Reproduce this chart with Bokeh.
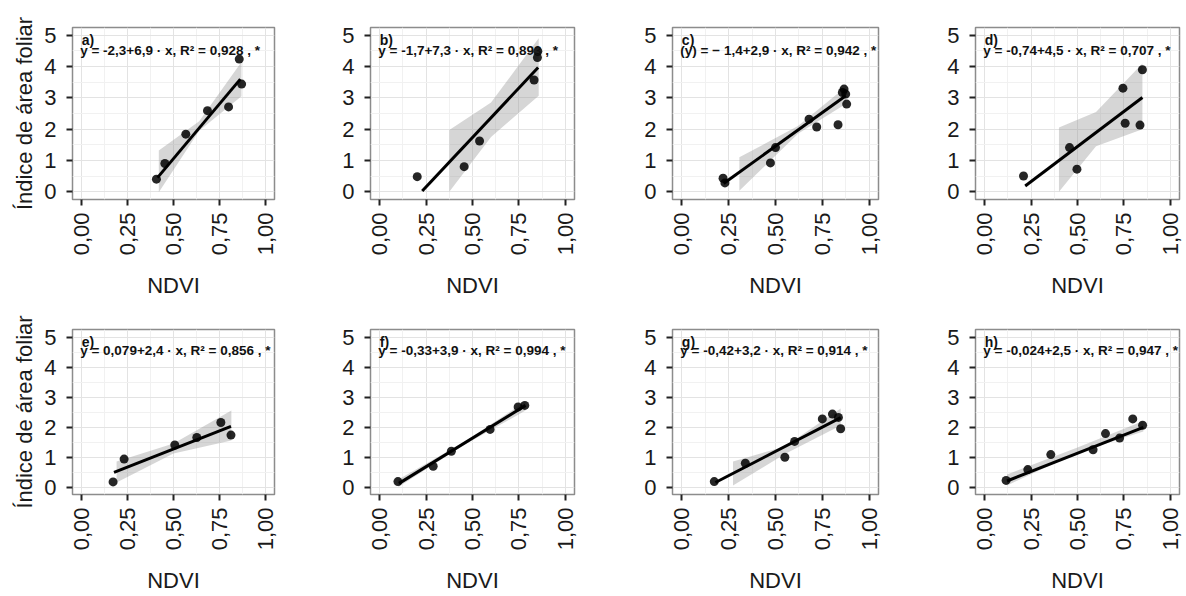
from bokeh.plotting import figure
from bokeh.layouts import column, row
from bokeh.models import FixedTicker, Label
from bokeh.embed import file_html
from bokeh.resources import INLINE

# ---------------- data ----------------
panel_tags = ["a)", "b)", "c)", "d)", "e)", "f)", "g)", "h)"]
equations = [
    "y = -2,3+6,9 · x,  R² = 0,928 , *",
    "y = -1,7+7,3 · x,  R² = 0,893 , *",
    "(y) = − 1,4+2,9 · x,  R² = 0,942 , *",
    "y = -0,74+4,5 · x,  R² = 0,707 , *",
    "y = 0,079+2,4 · x,  R² = 0,856 , *",
    "y = -0,33+3,9 · x,  R² = 0,994 , *",
    "y = -0,42+3,2 · x,  R² = 0,914 , *",
    "y = -0,024+2,5 · x,  R² = 0,947 , *",
]
x_tick_values = [0.0, 0.25, 0.5, 0.75, 1.0]
x_tick_labels = ["0,00", "0,25", "0,50", "0,75", "1,00"]
y_tick_values = [0, 1, 2, 3, 4, 5]
y_tick_labels = ["0", "1", "2", "3", "4", "5"]
x_axis_title = "NDVI"
y_axis_title = "Índice de área foliar"

# panel a
ndvi_a = [0.407, 0.453, 0.567, 0.685, 0.800, 0.858, 0.871]
iaf_a = [0.40, 0.90, 1.84, 2.59, 2.71, 4.24, 3.44]
fit_x_a = [0.413, 0.864]
fit_y_a = [0.45, 3.60]
band_x_a = [0.42, 0.64, 0.87]
band_lo_a = [-0.02, 1.95, 3.05]
band_hi_a = [1.32, 2.25, 4.15]

# panel b
ndvi_b = [0.202, 0.455, 0.538, 0.832, 0.850, 0.852]
iaf_b = [0.48, 0.80, 1.62, 3.57, 4.29, 4.49]
fit_x_b = [0.229, 0.854]
fit_y_b = [0.02, 3.97]
band_x_b = [0.375, 0.60, 0.857]
band_lo_b = [0.0, 1.75, 3.07]
band_hi_b = [1.97, 2.85, 4.91]

# panel c
ndvi_c = [0.220, 0.230, 0.473, 0.500, 0.679, 0.720, 0.834, 0.857, 0.866, 0.875, 0.880]
iaf_c = [0.43, 0.28, 0.92, 1.41, 2.32, 2.07, 2.14, 3.17, 3.28, 3.12, 2.80]
fit_x_c = [0.223, 0.875]
fit_y_c = [0.26, 3.07]
band_x_c = [0.307, 0.62, 0.875]
band_lo_c = [0.03, 1.85, 2.80]
band_hi_c = [1.10, 2.10, 3.35]

# panel d
ndvi_d = [0.209, 0.457, 0.497, 0.745, 0.757, 0.837, 0.850]
iaf_d = [0.50, 1.41, 0.72, 3.31, 2.19, 2.13, 3.90]
fit_x_d = [0.218, 0.850]
fit_y_d = [0.18, 3.01]
band_x_d = [0.40, 0.60, 0.85]
band_lo_d = [0.0, 1.45, 2.00]
band_hi_d = [2.05, 2.55, 4.10]

# panel e
ndvi_e = [0.171, 0.231, 0.507, 0.627, 0.758, 0.813]
iaf_e = [0.17, 0.93, 1.40, 1.65, 2.15, 1.73]
fit_x_e = [0.176, 0.813]
fit_y_e = [0.49, 2.02]
band_x_e = [0.19, 0.50, 0.815]
band_lo_e = [0.15, 1.12, 1.55]
band_hi_e = [0.85, 1.45, 2.55]

# panel f
ndvi_f = [0.098, 0.288, 0.386, 0.595, 0.746, 0.782]
iaf_f = [0.18, 0.69, 1.19, 1.92, 2.67, 2.72]
fit_x_f = [0.104, 0.786]
fit_y_f = [0.12, 2.72]
band_x_f = [0.10, 0.45, 0.786]
band_lo_f = [0.0, 1.38, 2.55]
band_hi_f = [0.25, 1.48, 2.85]

# panel g
ndvi_g = [0.173, 0.339, 0.550, 0.602, 0.750, 0.804, 0.836, 0.848]
iaf_g = [0.18, 0.79, 0.99, 1.52, 2.27, 2.43, 2.32, 1.94]
fit_x_g = [0.179, 0.848]
fit_y_g = [0.15, 2.31]
band_x_g = [0.273, 0.55, 0.848]
band_lo_g = [0.05, 1.10, 2.05]
band_hi_g = [0.85, 1.35, 2.62]

# panel h
ndvi_h = [0.115, 0.232, 0.356, 0.584, 0.651, 0.727, 0.798, 0.851]
iaf_h = [0.22, 0.58, 1.08, 1.24, 1.78, 1.63, 2.27, 2.06]
fit_x_h = [0.120, 0.855]
fit_y_h = [0.20, 1.99]
band_x_h = [0.12, 0.50, 0.855]
band_lo_h = [0.05, 1.15, 1.85]
band_hi_h = [0.42, 1.32, 2.20]

panels = [
    (ndvi_a, iaf_a, fit_x_a, fit_y_a, band_x_a, band_lo_a, band_hi_a),
    (ndvi_b, iaf_b, fit_x_b, fit_y_b, band_x_b, band_lo_b, band_hi_b),
    (ndvi_c, iaf_c, fit_x_c, fit_y_c, band_x_c, band_lo_c, band_hi_c),
    (ndvi_d, iaf_d, fit_x_d, fit_y_d, band_x_d, band_lo_d, band_hi_d),
    (ndvi_e, iaf_e, fit_x_e, fit_y_e, band_x_e, band_lo_e, band_hi_e),
    (ndvi_f, iaf_f, fit_x_f, fit_y_f, band_x_f, band_lo_f, band_hi_f),
    (ndvi_g, iaf_g, fit_x_g, fit_y_g, band_x_g, band_lo_g, band_hi_g),
    (ndvi_h, iaf_h, fit_x_h, fit_y_h, band_x_h, band_lo_h, band_hi_h),
]

# ---------------- layout ----------------
FONT = "Liberation Sans"
col_widths = [330, 302, 303, 251]
col_left = [72, 40, 40, 40]
frame_w = [202, 204, 206, 204]
row_heights = [310, 286]
row_top = [27, 19]
frame_h = [172, 173]


def make_panel(i):
    r, c = divmod(i, 4)
    xs, ys, fx, fy, bx, blo, bhi = panels[i]
    w, h = col_widths[c], row_heights[r]
    p = figure(width=w, height=h, output_backend="svg", toolbar_location=None,
               x_range=(-0.05, 1.05), y_range=(-0.25, 5.25),
               min_border_left=col_left[c],
               min_border_right=w - col_left[c] - frame_w[c],
               min_border_top=row_top[r],
               min_border_bottom=h - row_top[r] - frame_h[r],
               background_fill_color="white", border_fill_color="white")
    p.outline_line_color = "#8c8c8c"
    p.outline_line_width = 1.5

    xt = FixedTicker(ticks=x_tick_values, minor_ticks=[-0.125, 0.125, 0.375, 0.625, 0.875, 1.125])
    yt = FixedTicker(ticks=y_tick_values, minor_ticks=[-0.5, 0.5, 1.5, 2.5, 3.5, 4.5, 5.5])
    p.xaxis.ticker = xt
    p.yaxis.ticker = yt
    p.xgrid.ticker = xt
    p.ygrid.ticker = yt
    p.xaxis.major_label_overrides = dict(zip(x_tick_values, x_tick_labels))
    p.yaxis.major_label_overrides = dict(zip(y_tick_values, y_tick_labels))

    for g in (p.xgrid[0], p.ygrid[0]):
        g.grid_line_color = "#e3e3e3"
        g.grid_line_width = 1
        g.minor_grid_line_color = "#f1f1f1"
        g.minor_grid_line_width = 1

    for ax in (p.xaxis[0], p.yaxis[0]):
        ax.axis_line_color = None
        ax.major_tick_in = 0
        ax.major_tick_out = 6
        ax.major_tick_line_color = "#222222"
        ax.major_tick_line_width = 2
        ax.minor_tick_in = 0
        ax.minor_tick_out = 0
        ax.major_label_text_font = FONT
        ax.major_label_text_font_size = "22px"
        ax.major_label_text_color = "#1a1a1a"
        ax.axis_label_text_font = FONT
        ax.axis_label_text_font_size = "22px"
        ax.axis_label_text_font_style = "normal"
        ax.axis_label_text_color = "#1a1a1a"

    p.xaxis.major_label_orientation = 1.5707963
    p.xaxis.major_label_standoff = 7
    p.xaxis.axis_label = x_axis_title
    p.xaxis.axis_label_standoff = 15
    p.yaxis.major_label_standoff = 10
    if c == 0:
        p.yaxis.axis_label = y_axis_title
        p.yaxis.axis_label_standoff = 4

    p.varea(x=bx, y1=blo, y2=bhi, fill_color="#999999", fill_alpha=0.4)
    p.scatter(xs, ys, size=9, fill_color="black", line_color=None, fill_alpha=0.85)
    p.line(fx, fy, line_color="black", line_width=3)

    tag_y = 4.84 if r == 0 else 4.82
    eq_y = 4.52 if r == 0 else 4.56
    p.add_layout(Label(x=0.0, y=tag_y, text=panel_tags[i], text_font=FONT,
                       text_font_size="14px", text_font_style="bold",
                       text_color="#111111", text_baseline="alphabetic"))
    p.add_layout(Label(x=-0.008, y=eq_y, text=equations[i], text_font=FONT,
                       text_font_size="13.5px", text_font_style="bold",
                       text_color="#111111", text_baseline="alphabetic"))
    return p


figs = [make_panel(i) for i in range(8)]
layout = column(row(*figs[:4]), row(*figs[4:]))

open("out.html", "w").write(file_html(layout, INLINE))
